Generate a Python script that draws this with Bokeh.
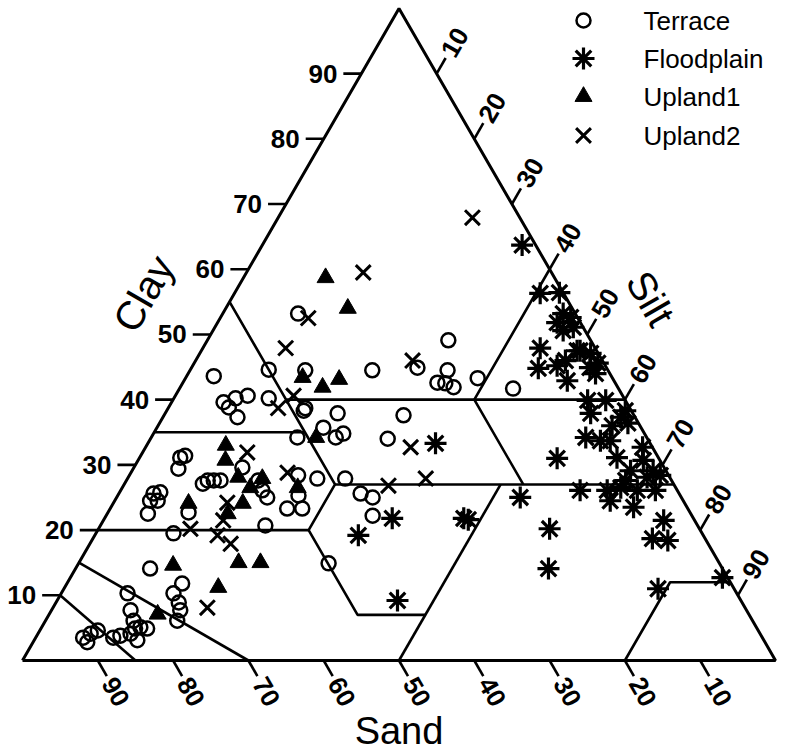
import math
from bokeh.plotting import figure
from bokeh.models import Range1d
from bokeh.core.properties import value
from bokeh.embed import file_html
from bokeh.resources import INLINE

# ---- sample composition (% clay, % sand; silt is the remainder) ----
terrace_clay = [53.2, 44.5, 44.5, 44.9, 49.1, 44.5, 42.6, 42.5, 41.9, 43.3, 41.7, 38.7, 37.9,
                35.7, 34.8, 34.2, 34.2, 37.6, 34.0, 44.6, 43.6, 39.6, 38.8, 40.2, 40.6, 37.3,
                40.2, 38.3, 29.6, 27.6, 27.6, 27.6, 27.1, 31.1, 31.4, 29.4, 27.6, 26.1, 25.0,
                25.6, 25.8, 24.5, 24.5, 22.5, 22.7, 20.7, 19.5, 14.1, 11.8, 10.3, 8.9, 10.3,
                7.7, 6.1, 3.5, 4.1, 4.6, 2.8, 3.5, 3.8, 4.1, 4.9, 5.1, 4.9, 3.1, 7.7, 6.1,
                28.4, 27.9, 25.3, 23.3, 23.3, 14.9, 27.9, 25.6, 25.0, 22.2]
terrace_sand = [36.8, 40.2, 31.3, 25.1, 18.9, 21.3, 23.6, 22.6, 21.8, 17.9, 14.0, 43.1, 39.2,
                42.2, 40.0, 41.3, 46.4, 30.6, 34.5, 45.0, 52.8, 53.5, 53.2, 51.6, 49.8, 52.8,
                47.2, 43.5, 56.0, 61.6, 60.8, 59.9, 62.5, 63.5, 62.7, 64.6, 54.9, 55.1, 55.0,
                69.8, 68.8, 70.8, 69.8, 72.1, 66.6, 57.4, 70.2, 76.0, 72.9, 74.8, 74.8, 80.9,
                81.8, 82.2, 90.2, 88.9, 87.7, 90.0, 86.2, 85.1, 83.6, 82.6, 81.8, 81.0, 83.2,
                75.2, 76.4, 49.2, 46.9, 50.7, 53.2, 51.2, 51.9, 43.2, 42.3, 41.0, 42.4]

floodplain_clay = [63.7, 56.3, 56.4, 53.2, 51.8, 52.6, 51.1, 47.9, 44.8, 46.0, 42.9, 47.5, 45.2,
                   50.6, 47.5, 47.1, 45.6, 44.9, 44.0, 39.9, 37.9, 38.3, 37.3, 36.4, 33.7, 31.1,
                   32.7, 30.7, 29.1, 28.1, 29.1, 26.1, 26.5, 26.1, 23.5, 24.5, 21.5, 18.7, 18.4,
                   11.0, 12.7, 31.0, 25.0, 20.2, 14.1, 21.8, 21.6, 33.3, 19.2, 21.8, 9.2, 33.7,
                   34.2, 26.1, 39.9, 36.0, 27.6, 28.4, 26.1]
floodplain_sand = [1.8, 3.1, 0.5, 1.6, 3.1, 0.9, 1.3, 7.3, 9.1, 4.9, 6.2, 2.6, 6.4,
                   2.9, 2.2, 1.0, 0.8, 2.2, 1.9, 5.0, 5.6, 0.8, 1.9, 1.4, 5.1, 5.5,
                   1.3, 2.2, 4.7, 3.0, 1.7, 9.3, 7.3, 5.3, 7.1, 9.7, 4.1, 7.0, 5.1,
                   10.1, 0.7, 13.5, 21.4, 19.9, 23.1, 30.5, 30.0, 28.5, 45.8, 40.0, 45.6, 6.4,
                   8.1, 12.9, 2.6, 3.7, 6.1, 1.1, 2.9]

upland1_clay = [58.7, 54.0, 43.4, 41.9, 43.1, 34.2, 33.0, 30.7, 28.1, 26.5, 27.9, 24.1, 24.1,
                22.5, 26.5, 15.0, 15.0, 14.6, 11.2, 7.1]
upland1_sand = [30.4, 29.8, 41.1, 39.2, 36.4, 43.9, 56.5, 57.7, 57.3, 56.5, 54.2, 58.7, 65.9,
                61.5, 50.2, 63.8, 60.9, 72.7, 68.4, 78.5]

upland2_clay = [67.9, 59.5, 52.5, 47.9, 40.6, 38.7, 46.0, 32.7, 31.9, 24.2, 21.5, 20.2, 19.2,
                17.9, 8.1, 28.8, 26.8, 27.9]
upland2_sand = [6.3, 25.0, 35.8, 41.1, 43.7, 46.7, 25.2, 32.1, 54.2, 60.7, 62.6, 67.6, 64.5,
                63.4, 71.4, 50.4, 38.0, 32.5]

series_names = ["Terrace", "Floodplain", "Upland1", "Upland2"]
tick_values = [10, 20, 30, 40, 50, 60, 70, 80, 90]

# USDA texture-class boundaries as (clay, silt) vertices
class_lines = [
    [(60, 40), (40, 40), (27, 53)],
    [(40, 60), (40, 15), (55, 0)],
    [(35, 0), (35, 20)],
    [(40, 15), (35, 20), (27, 28), (20, 28), (20, 0)],
    [(27, 28), (27, 73)],
    [(20, 28), (7, 41), (7, 50)],
    [(27, 50), (0, 50)],
    [(12, 88), (12, 80), (0, 80)],
    [(15, 0), (0, 30)],
    [(10, 0), (0, 15)],
]

SQ = math.sqrt(3) / 2
PX = 7.53  # screen pixels per percent along a side


def tern(clay, silt):
    return silt + clay / 2.0, clay * SQ


def to_xy(clay, sand):
    xs, ys = [], []
    for c, s in zip(clay, sand):
        x, y = tern(c, 100.0 - c - s)
        xs.append(x)
        ys.append(y)
    return xs, ys


p = figure(width=791, height=755, output_backend="svg", toolbar_location=None,
           x_range=Range1d(-22 / PX, 769 / PX), y_range=Range1d(-95 / PX, 660 / PX),
           x_axis_type=None, y_axis_type=None, min_border=0,
           outline_line_color=None, background_fill_color="white",
           border_fill_color="white")
p.grid.visible = False

FONT = value("Liberation Sans")
INK = "black"

# outer triangle
p.line([0, 100, 50, 0], [0, 0, 100 * SQ, 0], line_color=INK, line_width=3)

# texture class boundaries
for seg in class_lines:
    xs, ys = zip(*[tern(c, s) for c, s in seg])
    p.line(list(xs), list(ys), line_color=INK, line_width=2.6)

# ticks and tick labels
TL = 18 / PX
LD = 36 / PX
cx0, cx1, cy, sx0, sx1, sy0, sy1, tx0, tx1, ty0, ty1 = ([] for _ in range(11))
for v in tick_values:
    # clay along the left side
    x, y = tern(v, 0)
    cx0.append(x); cx1.append(x - TL); cy.append(y)
    # sand along the base (100 % sand at the left corner)
    x, y = tern(0, 100 - v)
    sx0.append(x); sx1.append(x + TL * 0.5); sy0.append(y); sy1.append(y - TL * SQ)
    # silt along the right side
    x, y = tern(100 - v, v)
    tx0.append(x); tx1.append(x + TL * 0.5); ty0.append(y); ty1.append(y + TL * SQ)

p.segment(cx0, cy, cx1, cy, line_color=INK, line_width=2.6)
p.segment(sx0, sy0, sx1, sy1, line_color=INK, line_width=2.6)
p.segment(tx0, ty0, tx1, ty1, line_color=INK, line_width=2.6)

labels = [str(v) for v in tick_values]
p.text([x - 24 / PX for x in cx0], cy, text=labels, text_font=FONT, text_font_style="bold",
       text_font_size="26px", text_align="right", text_baseline="middle", text_color=INK)
p.text([x + LD * 0.5 for x in sx0], [y - LD * SQ for y in sy0], text=labels, angle=-math.pi / 3,
       text_font=FONT, text_font_style="bold", text_font_size="26px",
       text_align="center", text_baseline="middle", text_color=INK)
p.text([x + LD * 0.5 for x in tx0], [y + LD * SQ for y in ty0], text=labels, angle=math.pi / 3,
       text_font=FONT, text_font_style="bold", text_font_size="26px",
       text_align="center", text_baseline="middle", text_color=INK)

# axis titles
p.text([(143 - 22) / PX], [(660 - 293) / PX], text=["Clay"], angle=math.pi / 3,
       text_font=FONT, text_font_size="40px", text_align="center", text_baseline="middle",
       text_color=INK)
p.text([(650 - 22) / PX], [(660 - 298) / PX], text=["Silt"], angle=-math.pi / 3,
       text_font=FONT, text_font_size="40px", text_align="center", text_baseline="middle",
       text_color=INK)
p.text([50], [(660 - 730) / PX], text=["Sand"],
       text_font=FONT, text_font_size="38px", text_align="center", text_baseline="middle",
       text_color=INK)

# samples
styles = [
    dict(marker="circle", size=14, fill_color=None, line_color=INK, line_width=2.5),
    dict(marker="asterisk", size=22, line_color=INK, line_width=3.2),
    dict(marker="triangle", size=17, fill_color=INK, line_color=INK, line_width=1),
    dict(marker="x", size=21, line_color=INK, line_width=3),
]
data = [(terrace_clay, terrace_sand), (floodplain_clay, floodplain_sand),
        (upland1_clay, upland1_sand), (upland2_clay, upland2_sand)]
for (clay, sand), st in zip(data, styles):
    xs, ys = to_xy(clay, sand)
    p.scatter(xs, ys, **st)

# key in the upper right corner
row_px = [20, 58, 96, 135]
for name, st, ry in zip(series_names, styles, row_px):
    ly = (660 - ry) / PX
    p.scatter([(583 - 22) / PX], [ly], **st)
    p.text([(643 - 22) / PX], [ly], text=[name], text_font=FONT, text_font_size="26px",
           text_align="left", text_baseline="middle", text_color=INK)

open("out.html", "w").write(file_html(p, INLINE))
